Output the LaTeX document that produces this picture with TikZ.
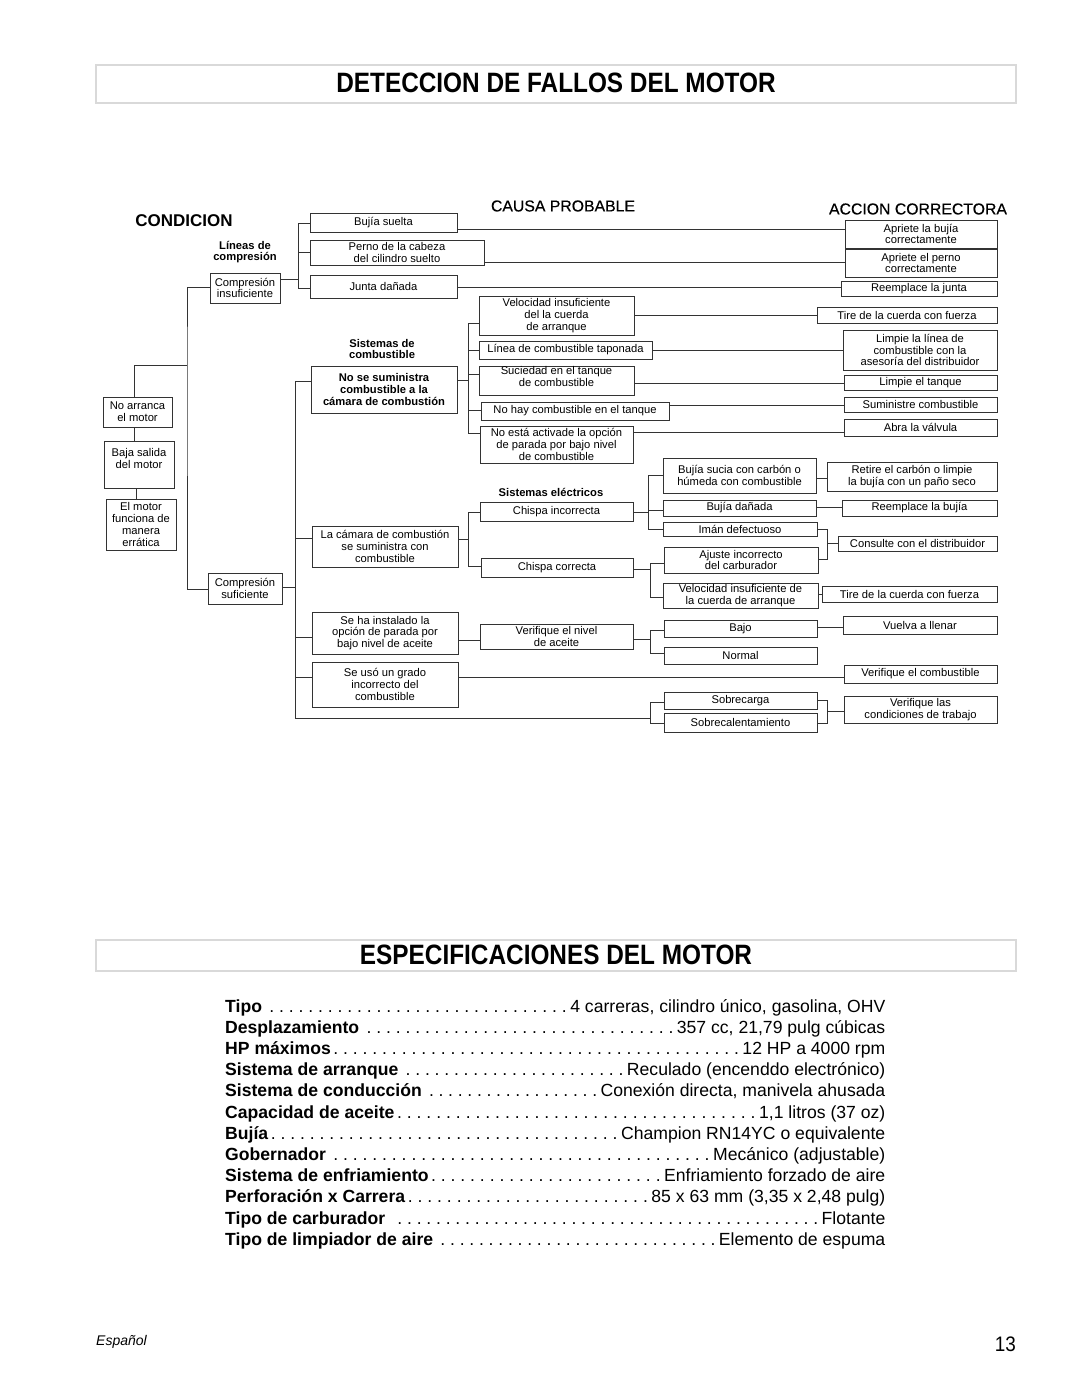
\documentclass[tikz,border=0pt]{standalone}
\usepackage{fontspec}
\setmainfont{Liberation Sans}
\newfontfamily\medfont[FakeBold=0.4]{Liberation Sans}
\newcommand{\bxf}{\fontsize{11.2}{11.8}\selectfont}
\newcommand{\lblf}{\fontsize{11.2}{11.6}\selectfont\bfseries}
\newcommand{\specf}{\fontsize{17.6}{20}\selectfont}
\newcommand{\lead}{\xleaders\hbox to 9.6pt{\hss.\hss}\hfill}
\newcommand{\specline}[4]{\node[anchor=base west, inner sep=0pt] (#1) at (225,#2) {\specf\hbox to 660pt{\bfseries #3\mdseries\lead\kern1pt #4}};}
\tikzset{
  box/.style={draw=black!80, line width=0.9pt, inner sep=0pt, outer sep=0pt, align=center, font=\bxf},
  lnk/.style={draw=black!80, line width=0.9pt},
  lbl/.style={font=\lblf, align=center, inner sep=0pt},
  titlebox/.style={draw=black!15, line width=1.8pt, inner sep=0pt, outer sep=0pt},
}
\newcommand{\mybox}[6]{\node[box, anchor=north west, minimum width={(#4-#2)*1pt}, minimum height={(#5-#3)*1pt}] (#1) at (#2,#3) {#6};}
\begin{document}
\begin{tikzpicture}[x=1pt,y=-1pt]
\useasboundingbox (0,0) rectangle (1080,1397);
\fill[white] (0,0) rectangle (1080,1397);

% ---------- titles ----------
\node[titlebox, anchor=north west, minimum width=920pt, minimum height=38pt] (t1) at (96,65) {};
\node[inner sep=0pt] (t1txt) at (556,83) {\scalebox{0.87}[1]{\fontsize{28}{30}\selectfont\bfseries DETECCION DE FALLOS DEL MOTOR}};
\node[titlebox, anchor=north west, minimum width=920pt, minimum height=31pt] (t2) at (96,940) {};
\node[inner sep=0pt] (t2txt) at (556,955) {\scalebox{0.87}[1]{\fontsize{28}{30}\selectfont\bfseries ESPECIFICACIONES DEL MOTOR}};

% ---------- headings ----------
\node[inner sep=0pt] (hcond) at (184,221) {\fontsize{17}{18}\selectfont\bfseries CONDICION};
\node[inner sep=0pt] (hcausa) at (563,206) {\fontsize{15.8}{17}\selectfont\medfont CAUSA PROBABLE};
\node[inner sep=0pt] (hacc) at (918,209) {\fontsize{15.8}{17}\selectfont\medfont ACCION CORRECTORA};
\node[lbl] (llin) at (245,252) {Líneas de\\compresión};
\node[lbl] (lsis) at (382,349) {Sistemas de\\combustible};
\node[lbl] (lele) at (551,492) {Sistemas eléctricos};

% ---------- condition column ----------
\mybox{na}{103}{397}{172}{427}{No arranca\\el motor}
\mybox{bs}{104}{441}{174}{488}{Baja salida\\del motor\\\mbox{}}
\mybox{em}{106}{499}{176}{550}{El motor\\funciona de\\manera\\errática}
\mybox{cins}{210}{273}{280}{303}{Compresión\\insuficiente}
\mybox{csuf}{208}{573}{282}{604}{Compresión\\suficiente}

% ---------- cause column ----------
\mybox{bsu}{310}{213}{457}{232}{Bujía suelta}
\mybox{pc}{310}{240}{484}{265}{Perno de la cabeza\\del cilindro suelto}
\mybox{jd}{310}{275}{457}{298}{Junta dañada}
\mybox{nss}{311}{366}{457}{413}{\bfseries No se suministra\\\bfseries combustible a la\\\bfseries cámara de combustión}
\mybox{lcc}{312}{526}{458}{567}{La cámara de combustión\\se suministra con\\combustible}
\mybox{shi}{312}{612}{458}{654}{Se ha instalado la\\opción de parada por\\bajo nivel de aceite}
\mybox{sug}{312}{662}{458}{707}{Se usó un grado\\incorrecto del\\combustible}

\mybox{vic}{479}{296}{634}{335}{Velocidad insuficiente\\del la cuerda\\de arranque}
\mybox{lct}{479}{341}{652}{359}{Línea de combustible taponada}
\mybox{set}{479}{366}{634}{395}{Suciedad en el tanque\\de combustible\\[-3pt]\mbox{}}
\mybox{nhc}{481}{402}{669}{420}{No hay combustible en el tanque}
\mybox{nea}{480}{426}{633}{463}{No está activade la opción\\de parada por bajo nivel\\de combustible}
\mybox{cin}{480}{502}{633}{521}{Chispa incorrecta}
\mybox{cco}{481}{558}{633}{577}{Chispa correcta}
\mybox{vna}{480}{624}{633}{649}{Verifique el nivel\\de aceite}

\mybox{bsc}{663}{458}{816}{493}{Bujía sucia con carbón o\\húmeda con combustible}
\mybox{bda}{663}{500}{816}{516}{Bujía dañada}
\mybox{imd}{663}{522}{817}{536}{Imán defectuoso}
\mybox{aic}{664}{547}{818}{573}{Ajuste incorrecto\\del carburador}
\mybox{vid}{663}{583}{818}{608}{Velocidad insuficiente de\\la cuerda de arranque}
\mybox{baj}{664}{620}{817}{637}{Bajo}
\mybox{nor}{664}{647}{817}{664}{Normal}
\mybox{sob}{664}{692}{817}{709}{Sobrecarga}
\mybox{sbc}{664}{713}{817}{732}{Sobrecalentamiento}

% ---------- corrective action column ----------
\mybox{a1}{845}{220}{997}{248}{Apriete la bujía\\correctamente}
\mybox{a2}{845}{249}{997}{277}{Apriete el perno\\correctamente}
\mybox{a3}{841}{281}{997}{296}{Reemplace la junta}
\mybox{a4}{817}{307}{997}{323}{Tire de la cuerda con fuerza}
\mybox{a5}{843}{330}{997}{370}{Limpie la línea de\\combustible con la\\asesoría del distribuidor}
\mybox{a6}{844}{375}{997}{390}{Limpie el tanque}
\mybox{a7}{844}{397}{997}{412}{Suministre combustible}
\mybox{a8}{844}{419}{997}{436}{Abra la válvula}
\mybox{a9}{827}{462}{997}{491}{Retire el carbón o limpie\\la bujía con un paño seco}
\mybox{a10}{842}{500}{997}{516}{Reemplace la bujía}
\mybox{a11}{838}{536}{997}{551}{Consulte con el distribuidor}
\mybox{a12}{822}{586}{997}{602}{Tire de la cuerda con fuerza}
\mybox{a13}{843}{616}{997}{634}{Vuelva a llenar}
\mybox{a14}{844}{665}{997}{683}{Verifique el combustible}
\mybox{a15}{844}{696}{997}{723}{Verifique las\\condiciones de trabajo}

% ---------- connectors: condition tree ----------
\draw[lnk] (cins.west |- 0,287) -| (187,365) |- (csuf.west |- 0,589);
\draw[lnk] (na.north -| 134,0) |- (187,365);
\draw[lnk] (na.south -| 134,0) -- (bs.north -| 134,0);
\draw[lnk] (bs.south -| 136,0) -- (em.north -| 136,0);

% compression lines
\draw[lnk] (cins.east |- 0,279) -- (298,279);
\draw[lnk] (bsu.west |- 0,223) -| (298,288) -- (jd.west |- 0,288);
\draw[lnk] (298,252) -- (pc.west |- 0,252);
\draw[lnk] (bsu.east |- 0,229) -- (a1.west |- 0,229);
\draw[lnk] (pc.east |- 0,262) -- (a2.west |- 0,262);
\draw[lnk] (jd.east |- 0,287) -- (a3.west |- 0,287);

% main trunk for sufficient compression
\draw[lnk] (nss.west |- 0,381) -| (295,718) -- (650,718);
\draw[lnk] (295,538) -- (lcc.west |- 0,538);
\draw[lnk] (csuf.east |- 0,587) -- (295,587);
\draw[lnk] (295,637) -- (shi.west |- 0,637);
\draw[lnk] (295,677) -- (sug.west |- 0,677);

% fuel system
\draw[lnk] (nss.east |- 0,380) -- (468,380);
\draw[lnk] (vic.west |- 0,323) -| (468,433) -- (nea.west |- 0,433);
\draw[lnk] (468,350) -- (lct.west |- 0,350);
\draw[lnk] (468,374) -- (set.west |- 0,374);
\draw[lnk] (468,410) -- (nhc.west |- 0,410);
\draw[lnk] (vic.east |- 0,315) -- (a4.west |- 0,315);
\draw[lnk] (lct.east |- 0,350) -- (a5.west |- 0,350);
\draw[lnk] (set.east |- 0,383) -- (a6.west |- 0,383);
\draw[lnk] (nhc.east |- 0,405) -- (a7.west |- 0,405);
\draw[lnk] (nea.east |- 0,432) -- (a8.west |- 0,432);

% electrical system
\draw[lnk] (lcc.east |- 0,539) -- (468,539);
\draw[lnk] (cin.west |- 0,512) -| (468,566) -- (cco.west |- 0,566);
\draw[lnk] (cin.east |- 0,512) -- (648,512);
\draw[lnk] (bsc.west |- 0,475) -| (648,529) -- (imd.west |- 0,529);
\draw[lnk] (648,510) -- (bda.west |- 0,510);
\draw[lnk] (bsc.east |- 0,478) -- (a9.west |- 0,478);
\draw[lnk] (bda.east |- 0,507) -- (a10.west |- 0,507);
\draw[lnk] (imd.east |- 0,529) -| (827,559) -- (aic.east |- 0,559);
\draw[lnk] (827,543) -- (a11.west |- 0,543);
\draw[lnk] (cco.east |- 0,569) -- (650,569);
\draw[lnk] (aic.west |- 0,563) -| (650,597) -- (vid.west |- 0,597);
\draw[lnk] (vid.east |- 0,594) -- (a12.west |- 0,594);

% oil
\draw[lnk] (shi.east |- 0,640) -- (vna.west |- 0,640);
\draw[lnk] (vna.east |- 0,639) -- (650,639);
\draw[lnk] (baj.west |- 0,630) -| (650,653) -- (nor.west |- 0,653);
\draw[lnk] (baj.east |- 0,627) -- (a13.west |- 0,627);

% fuel grade
\draw[lnk] (sug.east |- 0,677) -- (a14.west |- 0,677);

% overload
\draw[lnk] (sob.west |- 0,702) -| (650,723) -- (sbc.west |- 0,723);
\draw[lnk] (sob.east |- 0,700) -| (827,723) -- (sbc.east |- 0,723);
\draw[lnk] (827,711) -- (a15.west |- 0,711);

% ---------- specifications ----------
\specline{s1}{1012}{Tipo\ }{4 carreras, cilindro único, gasolina, OHV}
\specline{s2}{1033.2}{Desplazamiento\ }{357 cc, 21,79 pulg cúbicas}
\specline{s3}{1054.4}{HP máximos}{12 HP a 4000 rpm}
\specline{s4}{1075.6}{Sistema de arranque\ }{Reculado (encenddo electrónico)}
\specline{s5}{1096.8}{Sistema de conducción\ }{Conexión directa, manivela ahusada}
\specline{s6}{1118}{Capacidad de aceite}{1,1 litros (37 oz)}
\specline{s7}{1139.2}{Bujía}{Champion RN14YC o equivalente}
\specline{s8}{1160.4}{Gobernador\ }{Mecánico (adjustable)}
\specline{s9}{1181.6}{Sistema de enfriamiento}{Enfriamiento forzado de aire}
\specline{s10}{1202.8}{Perforación x Carrera}{85 x 63 mm (3,35 x 2,48 pulg)}
\specline{s11}{1224}{Tipo de carburador\ \ }{Flotante}
\specline{s12}{1245.2}{Tipo de limpiador de aire\ }{Elemento de espuma}

% ---------- footer ----------
\node[anchor=base west, inner sep=0pt] (foot1) at (96,1345) {\fontsize{14}{16}\selectfont\itshape Español};
\node[anchor=base east, inner sep=0pt] (foot2) at (1016,1351) {\scalebox{0.9}[1]{\fontsize{21}{22}\selectfont 13}};
\end{tikzpicture}
\end{document}
